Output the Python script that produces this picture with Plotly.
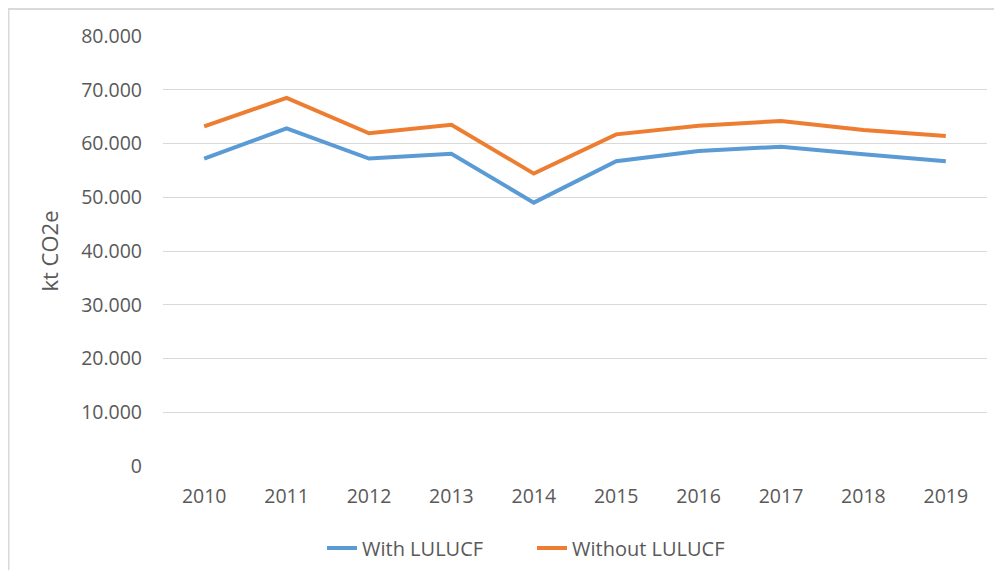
import plotly.graph_objects as go

years = ["2010", "2011", "2012", "2013", "2014", "2015", "2016", "2017", "2018", "2019"]
with_lulucf = [57200, 62800, 57200, 58100, 49000, 56700, 58600, 59400, 58000, 56700]
without_lulucf = [63200, 68500, 61900, 63500, 54400, 61700, 63300, 64200, 62500, 61400]
y_ticks = [0, 10000, 20000, 30000, 40000, 50000, 60000, 70000, 80000]

FONT = "Open Sans"
GRAY = "#595959"

fig = go.Figure()
fig.add_trace(go.Scatter(x=years, y=with_lulucf, mode="lines", name="With LULUCF",
                         line=dict(color="#5B9BD5", width=4)))
fig.add_trace(go.Scatter(x=years, y=without_lulucf, mode="lines", name="Without LULUCF",
                         line=dict(color="#ED7D31", width=4)))

# page offset of 8px (body margin) compensated: figure coords = page coords - 8
OFF = 8
W, H = 1002 - 2 * OFF, 578 - 2 * OFF
L, T = 163 - OFF, 36 - OFF
PR, PB = 987 - OFF, 466 - OFF
R, B = W - PR, H - PB
pw, ph = PR - L, PB - T

def px_x(p):
    return (p - OFF - L) / pw

def px_y(p):
    return (PB - (p - OFF)) / ph

fig.update_layout(
    width=W, height=H,
    margin=dict(l=L, r=R, t=T, b=B, autoexpand=False),
    paper_bgcolor="white", plot_bgcolor="white",
    separators=",.",
    font=dict(family=FONT, size=19.5, color=GRAY),
    showlegend=True,
    legend=dict(orientation="h", x=px_x(322), y=px_y(548), xanchor="left", yanchor="middle",
                font=dict(family=FONT, size=20, color=GRAY),
                entrywidth=165, entrywidthmode="pixels",
                bgcolor="rgba(0,0,0,0)"),
    xaxis=dict(type="category", range=[-0.5, 9.5], showgrid=False, zeroline=False,
               showline=False, ticks="", tickfont=dict(family=FONT, size=19.5, color=GRAY),
               ticklabelstandoff=16),
    yaxis=dict(range=[0, 80000], tickvals=y_ticks, tickformat=",d", showgrid=True,
               gridcolor="#d9d9d9", gridwidth=1, zeroline=False, showline=False, ticks="",
               tickfont=dict(family=FONT, size=19.5, color=GRAY), ticklabelstandoff=20,
               title=dict(text="kt CO2e", font=dict(family=FONT, size=22, color=GRAY), standoff=16)),
    shapes=[dict(type="rect", xref="paper", yref="paper",
                 x0=px_x(8.5), x1=px_x(1020), y0=px_y(600), y1=px_y(9),
                 line=dict(color="#d9d9d9", width=2), fillcolor="rgba(0,0,0,0)", layer="below")],
)

fig.write_html("out.html")
